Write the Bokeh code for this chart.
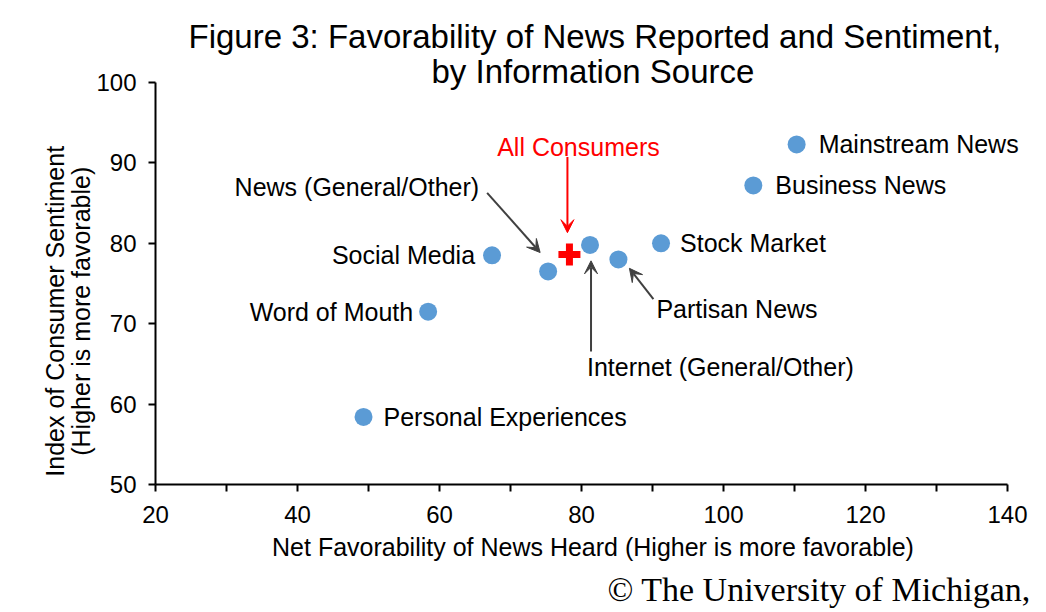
from bokeh.plotting import figure
from bokeh.models import Label, Arrow, VeeHead, FixedTicker, Range1d, Title
from bokeh.embed import file_html
from bokeh.resources import INLINE

# ---- data ----
sources = ["Mainstream News", "Business News", "Stock Market", "Partisan News",
           "Internet (General/Other)", "News (General/Other)", "Social Media",
           "Word of Mouth", "Personal Experiences"]
favorability = [110.3, 104.2, 91.2, 85.2, 81.2, 75.3, 67.4, 58.4, 49.3]
sentiment = [92.3, 87.2, 80.0, 78.0, 79.8, 76.5, 78.5, 71.5, 58.4]
all_label = "All Consumers"
all_favorability = [78.3]
all_sentiment = [78.6]
x_ticks = [20, 40, 60, 80, 100, 120, 140]
x_minor = [30, 50, 70, 90, 110, 130]
y_ticks = [50, 60, 70, 80, 90, 100]
X_MIN, X_MAX, Y_MIN, Y_MAX = 20, 140, 50, 100

# ---- layout ----
W, H = 1046, 612
FL, FR, FT, FB = 155, 1007, 82, 486      # where the axes span, in px
FR_EXT = 1030                              # frame extends right so labels are not clipped
SX = (X_MAX - X_MIN) / (FR - FL)
SY = (Y_MAX - Y_MIN) / (FB - FT)
def off(xv, yv, dx, dy):
    return xv + dx * SX, yv - dy * SY

FONT = "Liberation Sans"
NB = "\u00a0" * 8
p = figure(width=W, height=H,
           x_range=Range1d(X_MIN, X_MIN + (FR_EXT - FL) * SX),
           y_range=Range1d(Y_MIN, Y_MAX),
           output_backend="svg", toolbar_location=None, title=None,
           min_border_left=FL, min_border_right=W - FR_EXT,
           min_border_top=FT, min_border_bottom=H - FB)
p.outline_line_color = None
p.grid.grid_line_color = None
p.background_fill_color = "white"
p.border_fill_color = "white"

for ax in (p.xaxis[0], p.yaxis[0]):
    ax.axis_line_color = "black"
    ax.axis_line_width = 2
    ax.major_tick_line_color = "black"
    ax.major_tick_line_width = 2
    ax.major_tick_out = 7
    ax.major_tick_in = 0
    ax.major_label_text_font = FONT
    ax.major_label_text_font_size = "24px"
    ax.major_label_text_font_style = "normal"
    ax.major_label_text_color = "black"
    ax.axis_label_text_font = FONT
    ax.axis_label_text_font_size = "25px"
    ax.axis_label_text_font_style = "normal"
    ax.axis_label_text_color = "black"
p.xaxis.bounds = (X_MIN, X_MAX)
p.xaxis.ticker = FixedTicker(ticks=x_ticks, minor_ticks=x_minor)
p.xaxis.minor_tick_line_color = "black"
p.xaxis.minor_tick_line_width = 2
p.xaxis.minor_tick_out = 7
p.xaxis.minor_tick_in = 0
p.xaxis.major_label_standoff = 14
p.xaxis.axis_label = "Net Favorability of News Heard (Higher is more favorable)"
p.xaxis.axis_label_standoff = 7
p.yaxis.ticker = FixedTicker(ticks=y_ticks)
p.yaxis.minor_tick_line_color = None
p.yaxis.major_label_standoff = 12
p.yaxis.axis_label = "Index of Consumer Sentiment" + NB + "\n(Higher is more favorable)" + NB
p.yaxis.axis_label_text_line_height = 0.95
p.yaxis.axis_label_standoff = -2

# titles (innermost first)
p.add_layout(Title(text="by Information Source", align="left", offset=431 - FL,
                   text_font=FONT, text_font_size="33px", text_font_style="normal",
                   text_color="black", standoff=-14), "above")
p.add_layout(Title(text="Figure 3: Favorability of News Reported and Sentiment,",
                   align="left", offset=188 - FL, text_font=FONT, text_font_size="33px",
                   text_font_style="normal", text_color="black", standoff=5), "above")
p.add_layout(Title(text="\u00a9 The University of Michigan,", align="left",
                   offset=607 - FL, text_font="Liberation Serif", text_font_size="34px",
                   text_font_style="normal", text_color="black", standoff=10), "below")

# points
p.scatter(favorability, sentiment, size=18, color="#5B9BD5", line_color=None)
p.scatter(all_favorability, all_sentiment, marker="cross", size=22, line_width=7,
          line_color="#FF0000")

def lab(x, y, text, align="left", color="black"):
    p.add_layout(Label(x=x, y=y, text=text, text_font=FONT, text_font_size="25px",
                       text_color=color, text_align=align, text_baseline="middle"))

# point labels: (dx, dy, align) in px relative to the point
label_offsets = {
    "Mainstream News": (22, 0, "left"),
    "Business News": (22, 0, "left"),
    "Stock Market": (19, 0, "left"),
    "Personal Experiences": (20, 0, "left"),
    "Social Media": (-17, 0, "right"),
    "Word of Mouth": (-15, 0, "right"),
    "Partisan News": (38, 50, "left"),
    "Internet (General/Other)": (-3, 123, "left"),
    "News (General/Other)": (-69, -85, "right"),
}
for name, xv, yv in zip(sources, favorability, sentiment):
    dx, dy, al = label_offsets[name]
    lx, ly = off(xv, yv, dx, dy)
    lab(lx, ly, name, align=al)

ax0, ay0 = all_favorability[0], all_sentiment[0]
lx, ly = off(ax0, ay0, 9, -108)
lab(lx, ly, all_label, align="center", color="#FF0000")

def arrow(xv, yv, s, t, color):
    sx, sy = off(xv, yv, *s)
    tx, ty = off(xv, yv, *t)
    p.add_layout(Arrow(x_start=sx, y_start=sy, x_end=tx, y_end=ty,
                       line_color=color, line_width=2,
                       end=VeeHead(size=13, fill_color=color, line_color=color, line_width=1)))

GRAY = "#404040"
idx = {n: i for i, n in enumerate(sources)}
i = idx["News (General/Other)"]
arrow(favorability[i], sentiment[i], (-61, -79), (-8, -19), GRAY)
i = idx["Internet (General/Other)"]
arrow(favorability[i], sentiment[i], (1, 107), (1, 16), GRAY)
i = idx["Partisan News"]
arrow(favorability[i], sentiment[i], (35, 40), (11, 9), GRAY)
arrow(ax0, ay0, (-2, -98), (-2, -22), "#FF0000")

open("out.html", "w").write(file_html(p, INLINE))
